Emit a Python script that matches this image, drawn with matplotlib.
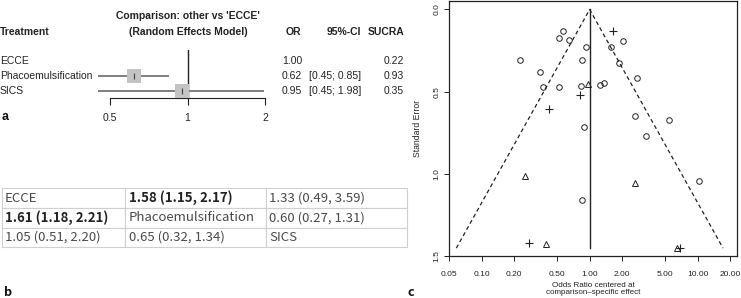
import numpy as np
import matplotlib
matplotlib.use("Agg")
import matplotlib.pyplot as plt

plt.rcParams['font.family'] = ['Liberation Sans', 'DejaVu Sans']

# ---- panel a: forest plot data ----
treatments = ["ECCE", "Phacoemulsification", "SICS"]
odds_ratio = [1.00, 0.62, 0.95]
ci_low = [np.nan, 0.45, 0.45]
ci_high = [np.nan, 0.85, 1.98]
sucra = [0.22, 0.93, 0.35]

# ---- panel b: league table ----
league = [["ECCE", "1.58 (1.15, 2.17)", "1.33 (0.49, 3.59)"],
          ["1.61 (1.18, 2.21)", "Phacoemulsification", "0.60 (0.27, 1.31)"],
          ["1.05 (0.51, 2.20)", "0.65 (0.32, 1.34)", "SICS"]]
league_bold = [(0, 1), (1, 0)]

# ---- panel c: comparison-adjusted funnel plot ----
circ_or = [0.565, 0.525, 0.642, 0.934, 0.227, 0.853, 0.348, 0.369, 0.519, 0.834, 1.25,
           1.35, 1.59, 2.04, 1.875, 2.77, 2.66, 5.45, 3.36, 0.884, 10.4, 0.858]
circ_se = [0.128, 0.172, 0.186, 0.226, 0.307, 0.306, 0.379, 0.472, 0.472, 0.464, 0.461,
           0.449, 0.226, 0.190, 0.327, 0.419, 0.650, 0.671, 0.772, 0.717, 1.042, 1.158]
plus_or = [1.64, 0.822, 0.419, 0.274, 6.89]
plus_se = [0.133, 0.519, 0.604, 1.423, 1.452]
tri_or = [0.975, 0.253, 0.396, 2.64, 6.42]
tri_se = [0.452, 1.013, 1.427, 1.054, 1.452]
funnel_xticks = [0.05, 0.10, 0.20, 0.50, 1.00, 2.00, 5.00, 10.00, 20.00]
funnel_yticks = [0.0, 0.5, 1.0, 1.5]

W, H = 741, 298


def fx(x):
    return x / W


def fy(y):
    return 1 - y / H


fig = plt.figure(figsize=(W / 100, H / 100), dpi=100)
fs = 7.5

# ================= panel a =================
px_per_dec = 155 / np.log10(4)
ax_a = fig.add_axes([fx(90), fy(97.7), (275 - 90) / W, (97.7 - 50) / H])
ax_a.set_xscale('log')
ax_a.set_xlim(0.5 * 10 ** (-20 / px_per_dec), 2 * 10 ** (10 / px_per_dec))
rows = np.arange(len(treatments))
ax_a.set_ylim(2.447, -0.733)
ax_a.hlines(rows, ci_low, ci_high, color='#6a6a6a', lw=1.2, zorder=2)
ax_a.scatter(odds_ratio[1:], rows[1:], marker='s', s=105, color='#c4c4c4', zorder=3, linewidths=0)
ax_a.scatter(odds_ratio[1:], rows[1:], marker='|', s=14, color='#444444', zorder=4, linewidths=0.8)
ax_a.axvline(1, color='#222222', lw=1, zorder=1)
for s in ['top', 'left', 'right']:
    ax_a.spines[s].set_visible(False)
ax_a.spines['bottom'].set_bounds(0.5, 2)
ax_a.spines['bottom'].set_color('#222222')
ax_a.set_yticks([])
ax_a.set_xticks([0.5, 1, 2])
ax_a.set_xticklabels(['0.5', '1', '2'])
ax_a.minorticks_off()
ax_a.tick_params(axis='x', direction='out', length=4.8, width=0.8, pad=6.5, labelsize=fs,
                 colors='#222222')
ax_a.patch.set_alpha(0)

tc = '#222222'
fig.text(fx(0), fy(31.7), 'Treatment', weight='bold', fontsize=fs, va='center', color=tc)
fig.text(fx(188.3), fy(15.7), "Comparison: other vs 'ECCE'", weight='bold', fontsize=fs,
         ha='center', va='center', color=tc)
fig.text(fx(188.3), fy(32), "(Random Effects Model)", weight='bold', fontsize=fs,
         ha='center', va='center', color=tc)
fig.text(fx(301), fy(32), 'OR', weight='bold', fontsize=fs, ha='right', va='center', color=tc)
fig.text(fx(361), fy(32), '95%-CI', weight='bold', fontsize=fs, ha='right', va='center', color=tc)
fig.text(fx(404), fy(32), 'SUCRA', weight='bold', fontsize=fs, ha='right', va='center', color=tc)
for i, name in enumerate(treatments):
    yy = fy(61 + 15 * i)
    fig.text(fx(0), yy, name, fontsize=fs, va='center', color=tc)
    fig.text(fx(302), yy, f"{odds_ratio[i]:.2f}", fontsize=fs, ha='right', va='center', color=tc)
    if not np.isnan(ci_low[i]):
        fig.text(fx(361), yy, f"[{ci_low[i]:.2f}; {ci_high[i]:.2f}]", fontsize=fs,
                 ha='right', va='center', color=tc)
    fig.text(fx(404), yy, f"{sucra[i]:.2f}", fontsize=fs, ha='right', va='center', color=tc)
fig.text(fx(2), fy(117), 'a', weight='bold', fontsize=9, va='center', color='#111111')

# ================= panel b =================
ax_b = fig.add_axes([fx(1.7), fy(247.3), (407.3 - 1.7) / W, (247.3 - 188.3) / H])
ax_b.axis('off')
cw = np.array([123.3, 140.7, 141.6])
tbl = ax_b.table(cellText=league, cellLoc='left', colWidths=cw / cw.sum(), bbox=[0, 0, 1, 1])
tbl.auto_set_font_size(False)
tbl.set_fontsize(9.5)
for (r, c), cell in tbl.get_celld().items():
    cell.set_edgecolor('#d0d0d0')
    cell.set_linewidth(0.8)
    cell.PAD = 0.025
    t = cell.get_text()
    t.set_fontfamily(['Noto Sans CJK SC', 'DejaVu Sans'])
    t.set_color('#4a4a4a')
    if (r, c) in league_bold:
        t.set_fontweight('bold')
        t.set_color('#222222')
fig.text(fx(4), fy(293), 'b', weight='bold', fontsize=9, va='center', color='#111111',
         family=['Noto Sans CJK SC', 'DejaVu Sans'])

# ================= panel c =================
ax_c = fig.add_axes([fx(449.3), fy(256), (737 - 449.3) / W, (256 - 1) / H])
ax_c.set_xscale('log')
ax_c.set_xlim(10 ** ((449.3 - 589.5) / 108), 10 ** ((737 - 589.5) / 108))
ax_c.set_ylim(1.5, -0.0517)
se_max = max(max(circ_se), max(plus_se), max(tri_se))
dk = '#222222'
ax_c.plot([1, 1], [0, se_max], color=dk, lw=1)
ax_c.plot([np.exp(-1.96 * se_max), 1, np.exp(1.96 * se_max)], [se_max, 0, se_max],
          color=dk, lw=0.9, dashes=(3.2, 2.4))
ax_c.plot(circ_or, circ_se, 'o', ms=4, mfc='none', mec=dk, mew=0.7)
ax_c.plot(plus_or, plus_se, '+', ms=5.5, mec=dk, mew=0.8)
ax_c.plot(tri_or, tri_se, '^', ms=4.5, mfc='none', mec=dk, mew=0.7)
ax_c.set_xticks(funnel_xticks)
ax_c.set_xticklabels([f"{v:.2f}" for v in funnel_xticks])
ax_c.minorticks_off()
ax_c.set_yticks(funnel_yticks)
ax_c.set_yticklabels([f"{v:.1f}" for v in funnel_yticks], rotation=90, va='center')
ax_c.tick_params(direction='out', length=3.6, width=0.7, labelsize=6, colors=dk, pad=3)
ax_c.tick_params(axis='x', pad=7)
for s in ax_c.spines.values():
    s.set_linewidth(0.9)
    s.set_color(dk)
ax_c.set_ylabel('Standard Error', fontsize=6.2, color=dk, labelpad=8)
ax_c.set_xlabel('Odds Ratio centered at\ncomparison\u2013specific effect', fontsize=5.8,
                color=dk, labelpad=3, linespacing=1.1)
fig.text(fx(408), fy(292), 'c', weight='bold', fontsize=9, va='center', color='#111111',
         family=['Noto Sans CJK SC', 'DejaVu Sans'])

fig.savefig('out.png', dpi=100)
